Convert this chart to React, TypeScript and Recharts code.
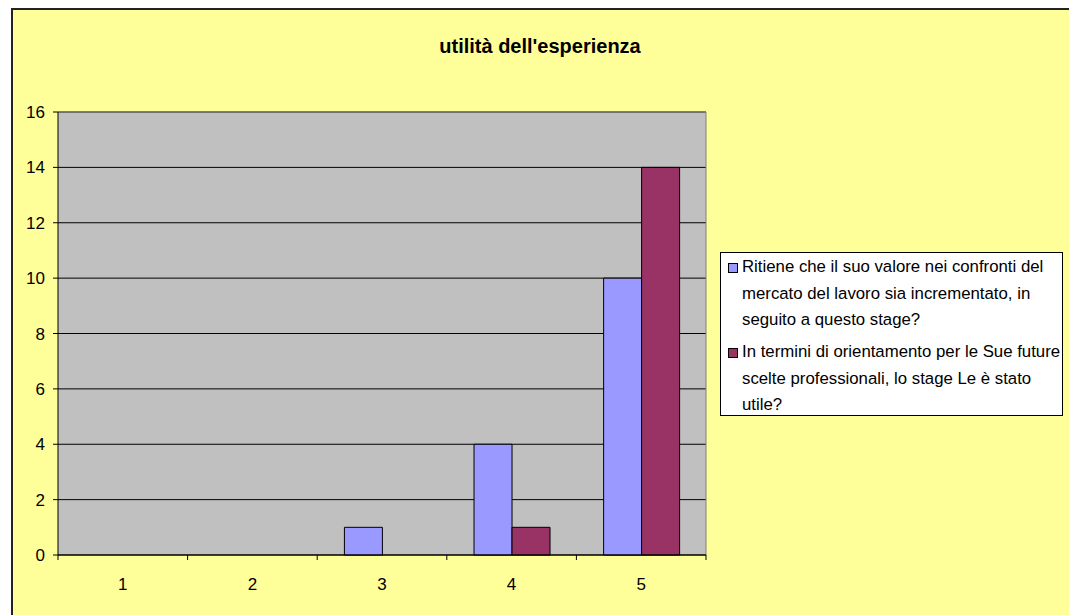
import { BarChart, Bar, XAxis, YAxis, CartesianGrid, ReferenceLine } from 'recharts'

const categories = ['1', '2', '3', '4', '5']
const valoreMercato = [0, 0, 1, 4, 10]
const orientamento = [0, 0, 0, 1, 14]
const yTicks = [0, 2, 4, 6, 8, 10, 12, 14, 16]

const title = "utilità dell'esperienza"
const seriesNames = [
  'Ritiene che il suo valore nei confronti del mercato del lavoro sia incrementato, in seguito a questo stage?',
  'In termini di orientamento per le Sue future scelte professionali, lo stage Le è stato utile?',
]
const legendLines = [
  ['Ritiene che il suo valore nei confronti del', 'mercato del lavoro sia incrementato, in', 'seguito a questo stage?'],
  ['In termini di orientamento per le Sue future', 'scelte professionali, lo stage Le è stato', 'utile?'],
]
const colors = ['#9999FF', '#993366']

const FONT = '"Liberation Sans", Arial, sans-serif'
const X_TICK_SIZE = 5
const X_TICK_MARGIN = 18

// Excel puts the x tick marks between categories, not under them
function CategoryTick(props: any) {
  const { x, y, payload, width, visibleTicksCount, index } = props
  const half = payload?.offset ?? width / visibleTicksCount / 2
  const axisY = y - X_TICK_SIZE - X_TICK_MARGIN
  const isLast = index === visibleTicksCount - 1
  return (
    <g>
      <line x1={x - half} x2={x - half} y1={axisY} y2={axisY + X_TICK_SIZE} stroke="#000" />
      {isLast && <line x1={x + half} x2={x + half} y1={axisY} y2={axisY + X_TICK_SIZE} stroke="#000" />}
      <text x={x} y={y} dy="0.71em" textAnchor="middle" fontSize={17} fontFamily={FONT} fill="#000">
        {payload.value}
      </text>
    </g>
  )
}

export default function App() {
  const data = categories.map((name, i) => ({
    name,
    valore: valoreMercato[i],
    orientamento: orientamento[i],
  }))

  return (
    <div style={{ fontFamily: FONT }}>
      <div
        style={{
          position: 'fixed',
          left: 11,
          top: 8,
          width: 1058,
          height: 607,
          background: '#FFFF99',
          borderTop: '2px solid #222',
          borderLeft: '2px solid #222',
          boxSizing: 'border-box',
        }}
      />
      <div style={{ position: 'fixed', left: 0, top: 0 }}>
        <BarChart
          width={1069}
          height={615}
          data={data}
          margin={{ top: 112, right: 363, left: 8, bottom: 20 }}
          barGap={0}
          barCategoryGap="21%"
        >
          <CartesianGrid vertical={false} stroke="#000" fill="#C0C0C0" />
          <XAxis
            dataKey="name"
            height={40}
            interval={0}
            axisLine={{ stroke: '#000' }}
            tickLine={false}
            tickSize={X_TICK_SIZE}
            tickMargin={X_TICK_MARGIN}
            tick={CategoryTick}
          />
          <YAxis
            width={50}
            domain={[0, 16]}
            ticks={yTicks}
            interval={0}
            axisLine={{ stroke: '#000' }}
            tickLine={{ stroke: '#000' }}
            tickSize={5}
            tickMargin={8}
            tick={{ fontSize: 17, fill: '#000', fontFamily: FONT }}
          />
          <ReferenceLine y={16} stroke="#808080" />
          <ReferenceLine x="5" position="end" stroke="#808080" />
          <Bar dataKey="valore" name={seriesNames[0]} fill={colors[0]} stroke="#000" isAnimationActive={false} />
          <Bar dataKey="orientamento" name={seriesNames[1]} fill={colors[1]} stroke="#000" isAnimationActive={false} />
        </BarChart>
      </div>
      <svg
        width={1069}
        height={100}
        style={{ position: 'fixed', left: 0, top: 0, pointerEvents: 'none' }}
      >
        <text x={540} y={53} textAnchor="middle" fontSize={20} fontWeight="bold" fontFamily={FONT} fill="#000">
          {title}
        </text>
      </svg>
      <div
        style={{
          position: 'fixed',
          left: 720,
          top: 252,
          width: 343,
          height: 164,
          boxSizing: 'border-box',
          border: '1px solid #000',
          background: '#fff',
          fontSize: 16.8,
          lineHeight: '26.5px',
          paddingTop: 1,
          color: '#000',
        }}
      >
        {legendLines.map((lines, i) => (
          <div key={i} style={{ position: 'relative', paddingLeft: 21, marginTop: i === 0 ? 0 : 5.5 }}>
            <div
              style={{
                position: 'absolute',
                left: 7,
                top: 9,
                width: 10,
                height: 10,
                boxSizing: 'border-box',
                border: '1px solid #000',
                background: colors[i],
              }}
            />
            {lines.map((l, j) => (
              <div key={j} style={{ whiteSpace: 'nowrap' }}>
                {l}
              </div>
            ))}
          </div>
        ))}
      </div>
    </div>
  )
}
